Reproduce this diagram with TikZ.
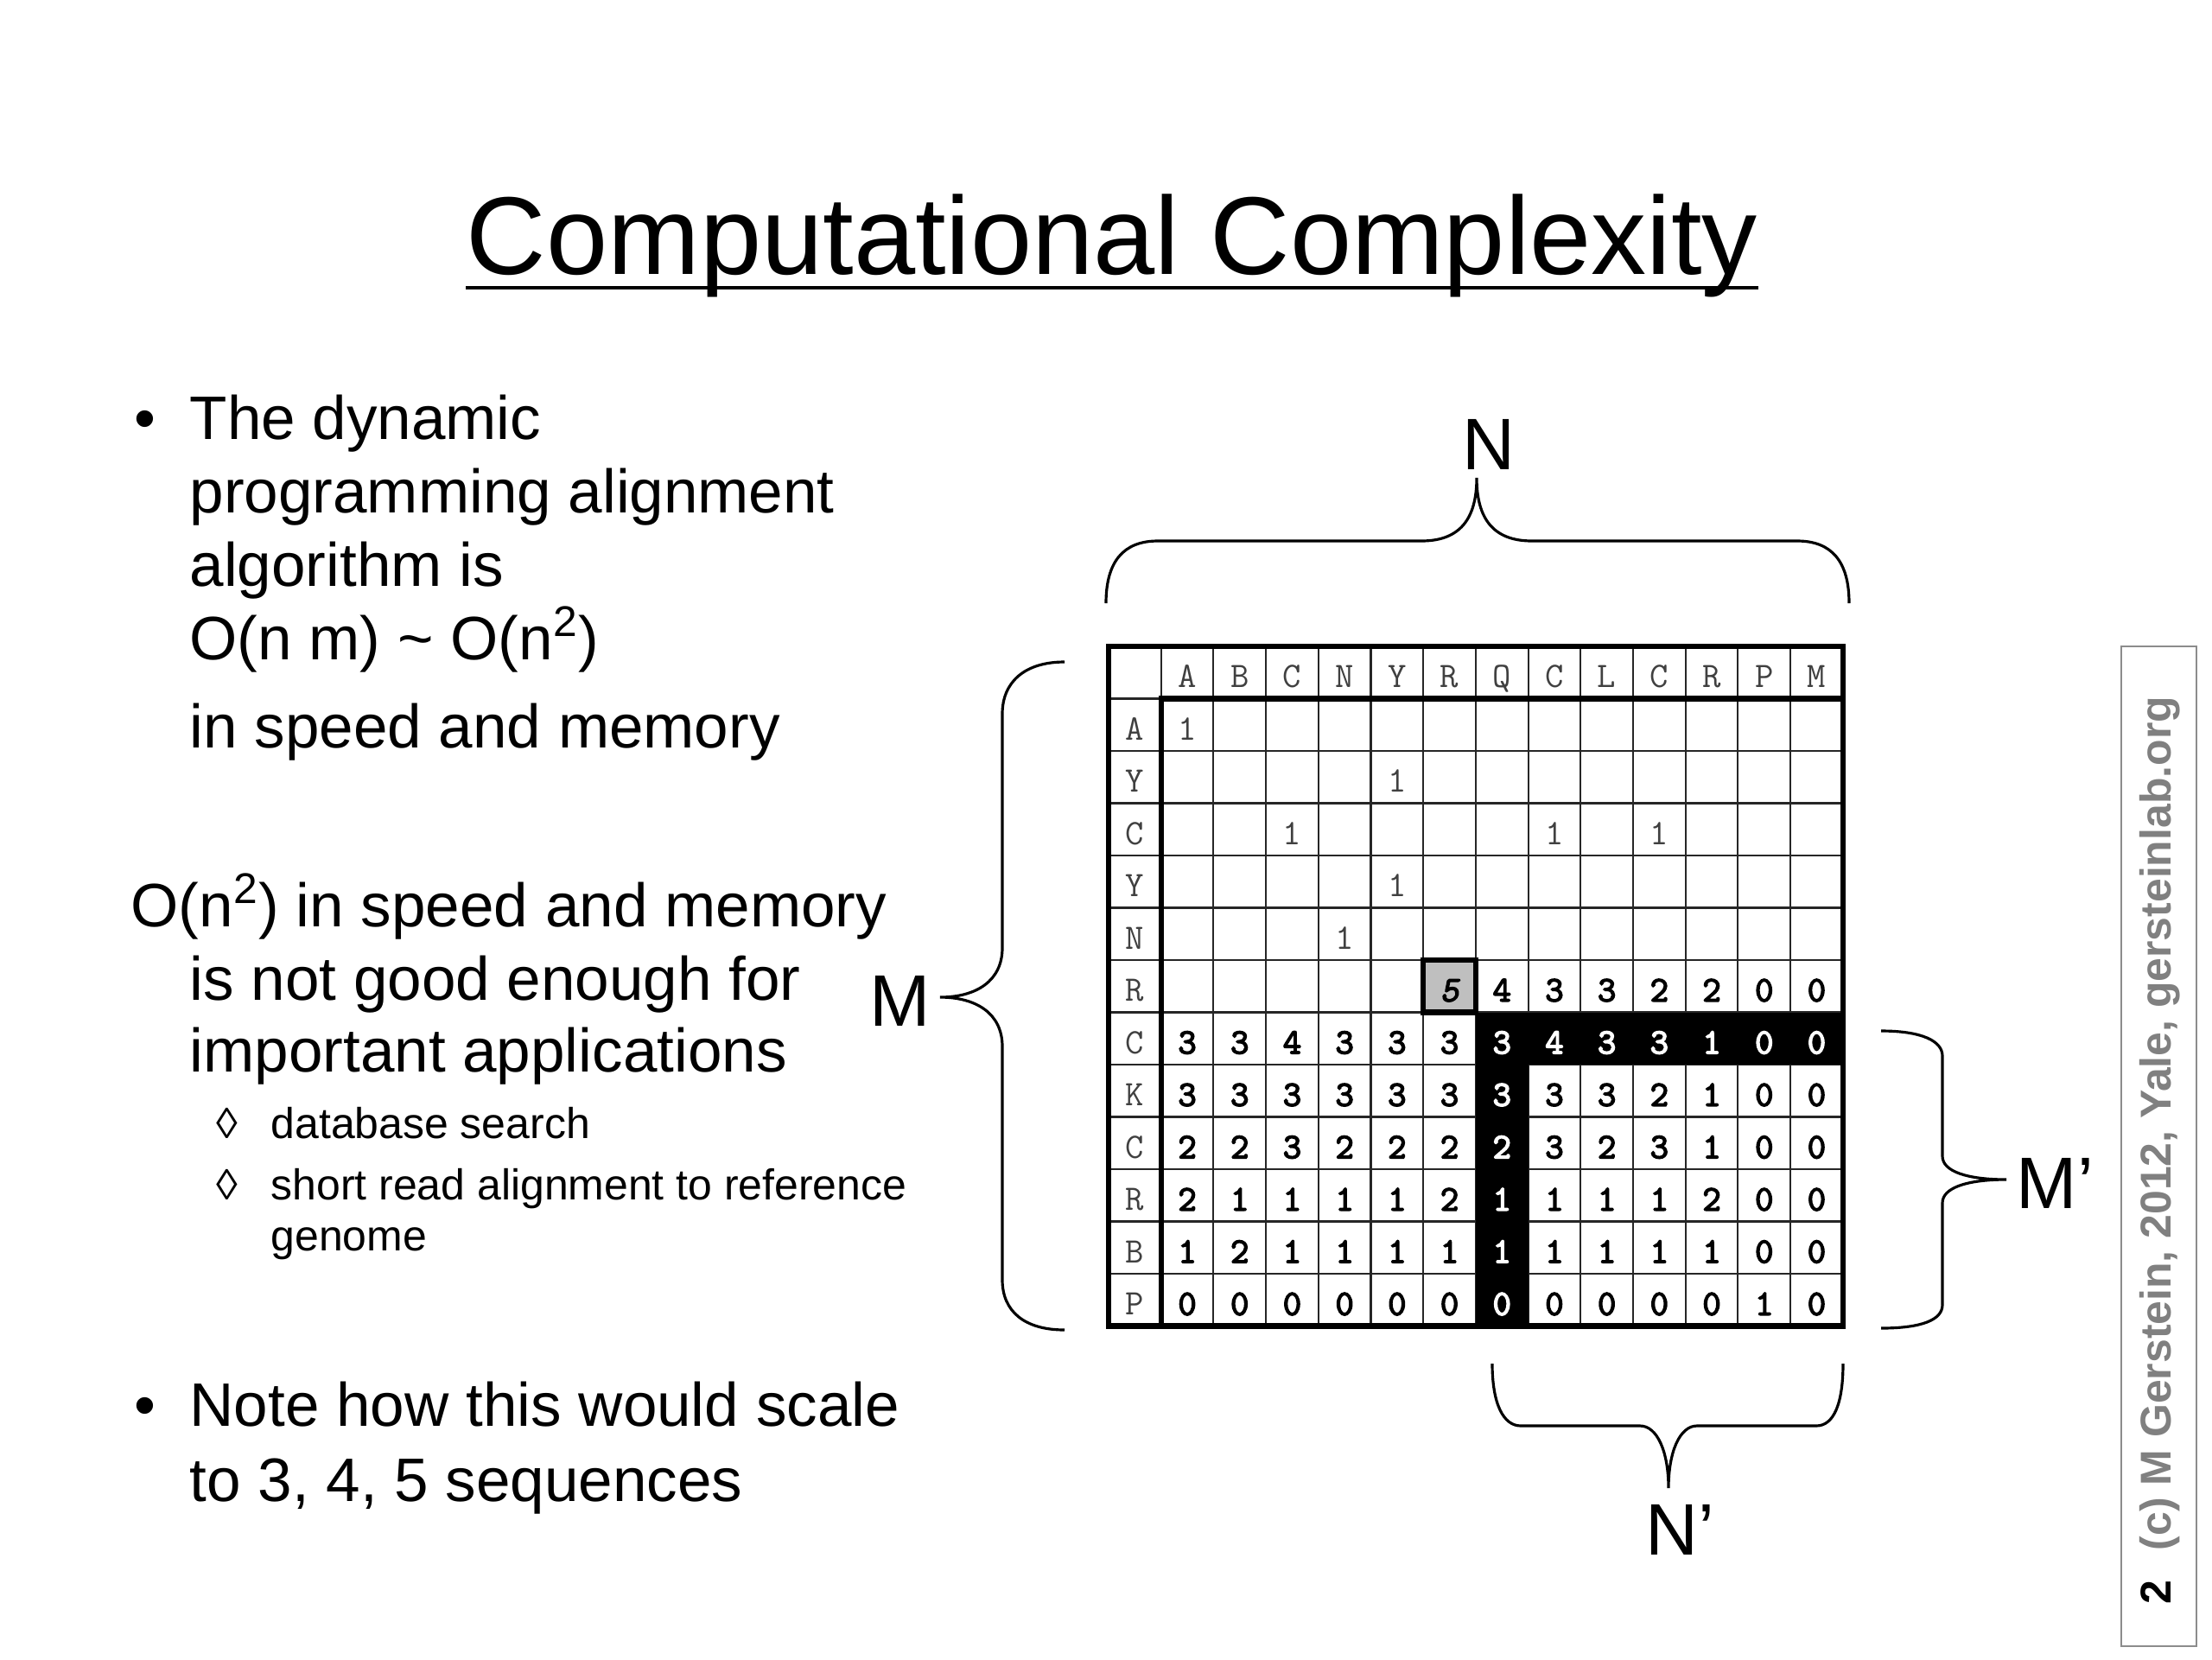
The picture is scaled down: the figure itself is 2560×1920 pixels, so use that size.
\documentclass[tikz,border=0pt]{standalone}
\usepackage{fontspec}
\setmainfont{Liberation Sans}
\newfontfamily\monofont{Liberation Mono}
\newfontfamily\bmono[FakeBold=3.6]{Latin Modern Mono}
\newfontfamily\bimono[FakeBold=3.6,FakeSlant=0.2]{Latin Modern Mono}
\usetikzlibrary{calc}
\begin{document}
\begin{tikzpicture}[x=0.01cm,y=-0.01cm,
  gridthin/.style={line width=0.6pt,black!85},
  gridthick/.style={line width=1.8pt,black},
  hdr/.style={font=\ttfamily\fontsize{11.8}{12}\selectfont,text=black!75,inner sep=0,text height=7.1pt,text depth=0pt,anchor=center},
  val/.style={font=\bmono\fontsize{11.8}{12}\selectfont,text=black,inner sep=0,text height=7.1pt,text depth=0pt,anchor=center},
  valw/.style={val,text=white},
  bodytext/.style={font=\fontsize{20.2}{24}\selectfont,anchor=base west,inner sep=0},
  subtext/.style={font=\fontsize{14.2}{17}\selectfont,anchor=base west,inner sep=0},
  lbl/.style={font=\fontsize{24}{28}\selectfont,anchor=base west,inner sep=0},
  bracestyle/.style={line width=0.9pt,black},
  vtext/.style={font=\bfseries\fontsize{14.2}{17}\selectfont,rotate=90,anchor=base,inner sep=0}]

\useasboundingbox (0,0) rectangle (2560,1920);
\fill[white] (0,0) rectangle (2560,1920);

% Title
\node[font=\fontsize{36.4}{42}\selectfont,anchor=base,inner sep=0] (title) at (1287,317) {Computational Complexity};
\draw[line width=0.95pt] ([yshift=-0.16cm]title.base west) -- ([yshift=-0.16cm]title.base east);

% Left text
\node[bodytext] (bul1) at (155,508) {•};
\node[bodytext] (t1a) at (219,508) {The dynamic};
\node[bodytext] (t1b) at (219,593) {programming alignment};
\node[bodytext] (t1c) at (219,678) {algorithm is};
\node[bodytext] (t1d) at (219,763) {O(n m) \textasciitilde{} O(n\textsuperscript{2})};
\node[bodytext] (t1e) at (219,865) {in speed and memory};

\node[bodytext] (t2a) at (151,1072) {O(n\textsuperscript{2}) in speed and memory};
\node[bodytext] (t2b) at (219,1157) {is not good enough for};
\node[bodytext] (t2c) at (219,1240) {important applications};

\node[subtext] (sb1) at (250,1317) {◊};
\node[subtext] (s1) at (313,1317) {database search};
\node[subtext] (sb2) at (250,1388) {◊};
\node[subtext] (s2a) at (313,1388) {short read alignment to reference};
\node[subtext] (s2b) at (313,1447) {genome};

\node[bodytext] (bul3) at (155,1650) {•};
\node[bodytext] (t3a) at (219,1650) {Note how this would scale};
\node[bodytext] (t3b) at (219,1737) {to 3, 4, 5 sequences};

% Grid: thin lines
\foreach \i in {1,...,13}
  \draw[gridthin] ({1283+60.7*\i},748) -- ({1283+60.7*\i},1534.5);
\foreach \j in {1,...,12}
  \draw[gridthin] (1283,{748+60.5*\j}) -- (2132.8,{748+60.5*\j});

% Black path region
\fill[black] ({1283+60.7*7},{748+60.5*7}) rectangle (2132.8,{748+60.5*8});
\fill[black] ({1283+60.7*7},{748+60.5*7}) rectangle ({1283+60.7*8},1534.5);

% Highlighted cell
\filldraw[fill=gray!50,draw=black,line width=1.8pt] ({1283+60.7*6},{748+60.5*6}) rectangle ({1283+60.7*7},{748+60.5*7});

% Thick lines
\draw[gridthick] (1283,748) rectangle (2132.8,1534.5);
\draw[gridthick] (2132.8,{748+60.5}) -- ({1283+60.7},{748+60.5}) -- ({1283+60.7},1534.5);

% Header letters
\foreach \l [count=\c] in {A,B,C,N,Y,R,Q,C,L,C,R,P,M}
  \node[hdr] (h-\c) at ({1283+60.7*(\c+0.5)},{753+60.5*0.5}) {\l};
\foreach \l [count=\r] in {A,Y,C,Y,N,R,C,K,C,R,B,P}
  \node[hdr] (v-\r) at ({1283+60.7*0.5},{753+60.5*(\r+0.5)}) {\l};

% Upper ones
\foreach \r/\c in {1/1,2/5,3/3,3/8,3/10,4/5,5/4}
  \node[hdr] (u-\r-\c) at ({1283+60.7*(\c+0.5)},{753+60.5*(\r+0.5)}) {1};

% Row R values
\node[val,font=\bimono\fontsize{11.8}{12}\selectfont] (five) at ({1283+60.7*6.5},{753+60.5*6.5}) {5};
\foreach \v [count=\i] in {4,3,3,2,2,0,0}{
  \pgfmathtruncatemacro\c{\i+6}
  \node[val] (d-6-\c) at ({1283+60.7*(\c+0.5)},{753+60.5*6.5}) {\v};
}

% Rows C..P
\foreach \row [count=\ri] in {{3,3,4,3,3,3,3,4,3,3,1,0,0},{3,3,3,3,3,3,3,3,3,2,1,0,0},{2,2,3,2,2,2,2,3,2,3,1,0,0},{2,1,1,1,1,2,1,1,1,1,2,0,0},{1,2,1,1,1,1,1,1,1,1,1,0,0},{0,0,0,0,0,0,0,0,0,0,0,1,0}}{
  \pgfmathtruncatemacro\r{\ri+6}
  \foreach \v [count=\c] in \row {
    \pgfmathtruncatemacro\isw{((\c==7)||((\r==7)&&(\c>7)))?1:0}
    \ifnum\isw=1
      \node[valw] (d-\r-\c) at ({1283+60.7*(\c+0.5)},{753+60.5*(\r+0.5)}) {\v};
    \else
      \node[val] (d-\r-\c) at ({1283+60.7*(\c+0.5)},{753+60.5*(\r+0.5)}) {\v};
    \fi
  }
}

% Braces
\draw[bracestyle] (1280,698) .. controls (1280,650) and (1300,626) .. (1340,626) -- (1645,626)
  .. controls (1690,626) and (1709,600) .. (1709,553)
  .. controls (1709,600) and (1728,626) .. (1773,626) -- (2080,626)
  .. controls (2120,626) and (2140,650) .. (2140,698);
\draw[bracestyle] (1232,766) .. controls (1185,766) and (1160,790) .. (1160,826) -- (1160,1097)
  .. controls (1160,1135) and (1130,1154) .. (1088,1154)
  .. controls (1130,1154) and (1160,1173) .. (1160,1211) -- (1160,1481)
  .. controls (1160,1517) and (1185,1539) .. (1232,1539);
\draw[bracestyle] (2177,1193) .. controls (2225,1193) and (2248,1205) .. (2248,1222) -- (2248,1338)
  .. controls (2248,1355) and (2275,1365) .. (2322,1365)
  .. controls (2275,1365) and (2248,1375) .. (2248,1392) -- (2248,1510)
  .. controls (2248,1527) and (2225,1537) .. (2177,1537);
\draw[bracestyle] (1727,1578) .. controls (1727,1625) and (1740,1650) .. (1760,1650) -- (1898,1650)
  .. controls (1918,1650) and (1931,1680) .. (1931,1722)
  .. controls (1931,1680) and (1944,1650) .. (1964,1650) -- (2102,1650)
  .. controls (2122,1650) and (2133,1625) .. (2133,1578);

% Brace labels
\node[lbl,anchor=base] (lN) at (1723,543) {N};
\node[lbl] (lM) at (1006,1187) {M};
\node[lbl] (lMp) at (2333,1398) {M’};
\node[lbl] (lNp) at (1904,1799) {N’};

% Side credit box
\draw[line width=0.6pt,draw=black!45] (2455,748) rectangle (2542,1905);
\node[vtext,text=black!50] (credit) at (2512,1300) {(c) M Gerstein, 2012, Yale, gersteinlab.org};
\node[vtext,text=black] (pagenum) at (2512,1843) {2};
\end{tikzpicture}
\end{document}
